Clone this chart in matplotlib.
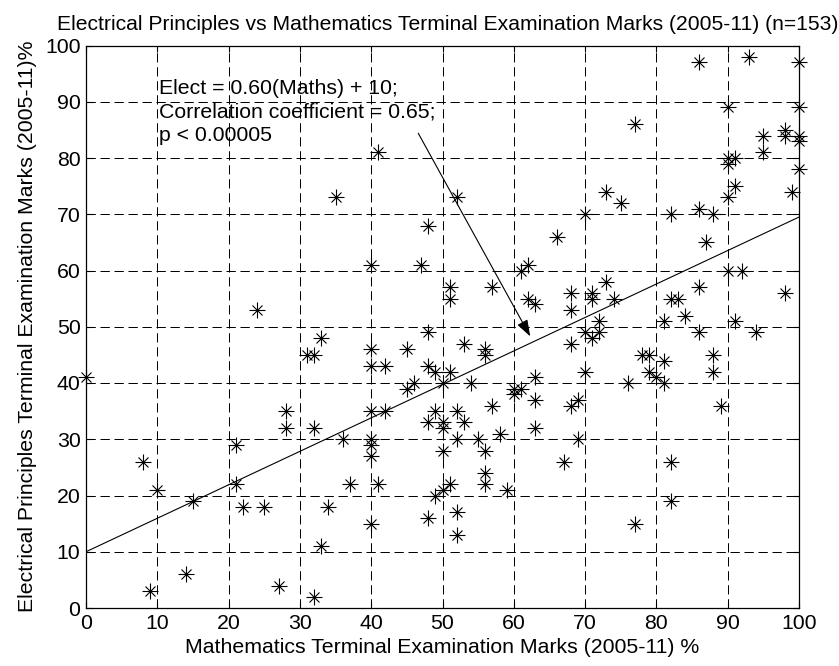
import numpy as np
import matplotlib
matplotlib.use("Agg")
from matplotlib import pyplot as plt

plt.rcParams['font.family'] = ['Liberation Sans', 'DejaVu Sans']

# marks (maths %, electrical principles %)
maths = [0, 8, 10, 15, 9, 14, 21, 21, 22, 25, 28, 28, 27, 31, 32, 32, 32, 24,
         41, 35, 52, 48, 40, 47, 51, 51, 57, 61, 62, 62, 63, 66, 33, 48,
         86, 93, 100, 90, 100, 77, 95, 98, 98, 100, 100, 95, 90, 91, 90, 100,
         91, 99, 90, 73, 75, 70, 82, 86, 88, 87, 90, 92, 73, 68, 71, 71, 68,
         74, 72, 70, 71, 72, 82, 83, 86, 84, 81, 91, 86, 94, 98,
         40, 40, 42, 45, 53, 56, 56, 48, 49, 51, 50, 45, 46, 54, 60, 61, 60,
         63, 63, 57, 63, 40, 42, 49, 52, 48, 50, 50, 53, 36, 40, 40, 40, 52,
         55, 58, 50, 56, 56, 56, 37, 41, 51, 50, 49, 59, 34, 52, 48, 40, 52, 33,
         68, 78, 79, 81, 88, 88, 79, 80, 81, 76, 70, 68, 69, 89, 69, 67, 82, 82, 77]
elect = [41, 26, 21, 19, 3, 6, 29, 22, 18, 18, 35, 32, 4, 45, 45, 32, 2, 53,
         81, 73, 73, 68, 61, 61, 57, 55, 57, 60, 61, 55, 54, 66, 48, 49,
         97, 98, 97, 89, 89, 86, 84, 85, 84, 84, 83, 81, 80, 80, 79, 78,
         75, 74, 73, 74, 72, 70, 70, 71, 70, 65, 60, 60, 58, 56, 56, 55, 53,
         55, 51, 49, 48, 49, 55, 55, 57, 52, 51, 51, 49, 49, 56,
         46, 43, 43, 46, 47, 46, 45, 43, 42, 42, 40, 39, 40, 40, 39, 39, 38,
         41, 37, 36, 32, 35, 35, 35, 35, 33, 33, 32, 33, 30, 30, 29, 27, 30,
         30, 31, 28, 28, 24, 22, 22, 22, 22, 21, 20, 21, 18, 17, 16, 15, 13, 11,
         47, 45, 45, 44, 45, 42, 42, 41, 40, 40, 42, 36, 37, 36, 30, 26, 26, 19, 15]

fit_slope = 0.595
fit_intercept = 10
fit_range = [0, 100]

ticks = [0, 10, 20, 30, 40, 50, 60, 70, 80, 90, 100]
fs = 15.3

fig = plt.figure(figsize=(8.39, 6.66), dpi=100)
ax = fig.add_axes([86 / 839, 58 / 666, 713 / 839, 562.5 / 666])

# matlab style asterisk = plus + cross
ax.plot(maths, elect, ls='none', marker='+', ms=11, mew=0.8, color='k', clip_on=False, zorder=3)
ax.plot(maths, elect, ls='none', marker='x', ms=7.5, mew=0.8, color='k', clip_on=False, zorder=3)

fx = np.array(fit_range)
ax.plot(fx, fit_slope * fx + fit_intercept, color='k', lw=0.8, zorder=2)

ax.set_xlim(0, 100)
ax.set_ylim(0, 100)
ax.set_xticks(ticks)
ax.set_yticks(ticks)
ax.grid(True, color='k', lw=0.72, dashes=(9.3, 4.7))
ax.tick_params(direction='in', top=True, right=True, length=4, width=0.8, labelsize=fs, pad=4)
for s in ax.spines.values():
    s.set_linewidth(0.9)

ax.set_title('Electrical Principles vs Mathematics Terminal Examination Marks (2005-11) (n=153)',
             fontsize=15.2, pad=11, x=0.507)
ax.set_xlabel('Mathematics Terminal Examination Marks (2005-11) %', fontsize=fs, labelpad=4)
ax.set_ylabel('Electrical Principles Terminal Examination Marks (2005-11)%', fontsize=fs, labelpad=6)

ax.text(10.2, 94.0, 'Elect = 0.60(Maths) + 10;\nCorrelation coefficient = 0.65;\np < 0.00005',
        fontsize=fs, va='top', ha='left', linespacing=1.28)
ax.annotate('', xy=(62.3, 48.3), xytext=(46.6, 84.4),
            arrowprops=dict(arrowstyle='-|>,head_length=1.0,head_width=0.35', color='k', lw=0.8,
                            shrinkA=0, shrinkB=0))

fig.savefig('out.png', dpi=100)
